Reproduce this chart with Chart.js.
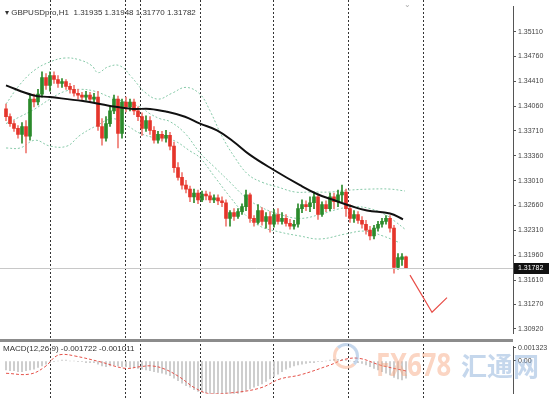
<!DOCTYPE html>
<html>
<head>
<meta charset="utf-8">
<script src="https://cdn.jsdelivr.net/npm/chart.js@4.4.1/dist/chart.umd.min.js"></script>
<style>
body{margin:0;background:#fff;width:559px;height:400px;overflow:hidden;position:relative;font-family:"Liberation Sans",Arial,sans-serif}
#main{position:absolute;left:0;top:0}
#macd{position:absolute;left:0;top:340px}
.sep{position:absolute;left:0;top:339px;width:513px;height:3px;background:#8c8c8c}
.hdr{position:absolute;left:5px;top:8px;font-size:8px;color:#333;white-space:pre}
.mark{position:absolute;left:404px;top:0px;font-size:8px;color:#aaa}
.mlab{position:absolute;left:3px;top:344px;font-size:8px;color:#333;white-space:pre}
.logo{position:absolute;left:333px;top:343px;width:20px;height:20px;border-radius:50%;border:3px solid #f6a27a;border-right-color:#7fa6d6;border-top-color:#7fa6d6;opacity:.45}
.wm1{position:absolute;left:376px;top:342px;font:bold 32px "Noto Sans",sans-serif;color:#f6a27a;opacity:.45;transform:scaleX(.8);transform-origin:left top}
.wm2{position:absolute;left:461px;top:346px;font:bold 26px "Noto Sans CJK SC",sans-serif;color:#7fa6d6;opacity:.45}
</style>
</head>
<body>
<canvas id="main" width="559" height="340"></canvas>
<canvas id="macd" width="559" height="60"></canvas>
<div class="sep"></div>
<div class="hdr">&#9662; GBPUSDpro,H1  1.31935 1.31948 1.31770 1.31782</div>
<div class="mark">&#8964;</div>
<div class="mlab">MACD(12,26,9) -0.001722 -0.001011</div>
<div class="logo"></div>
<div class="wm1">FX678</div>
<div class="wm2">汇通网</div>
<script>
// H1 candles, index 0..100
var opens = [1.34021,1.33911,1.33814,1.33746,1.33663,1.33773,1.33635,1.34159,1.34118,1.34228,
  1.34462,1.34352,1.34490,1.34435,1.34380,1.34407,1.34338,1.34297,1.34242,1.34214,
  1.34187,1.34214,1.34159,1.34187,1.33773,1.33608,1.33814,1.33994,1.34159,1.33677,
  1.34118,1.34049,1.34118,1.33994,1.33911,1.33746,1.33856,1.33718,1.33580,1.33663,
  1.33608,1.33649,1.33497,1.33194,1.33057,1.32946,1.32891,1.32781,1.32836,1.32740,
  1.32822,1.32795,1.32740,1.32767,1.32726,1.32698,1.32478,1.32560,1.32505,1.32574,
  1.32643,1.32809,1.32478,1.32423,1.32588,1.32436,1.32505,1.32395,1.32533,1.32436,
  1.32478,1.32409,1.32368,1.32395,1.32616,1.32671,1.32643,1.32698,1.32781,1.32533,
  1.32671,1.32616,1.32781,1.32712,1.32809,1.32850,1.32616,1.32478,1.32533,1.32450,
  1.32395,1.32312,1.32230,1.32340,1.32395,1.32436,1.32478,1.32340,1.31789,1.31900,
  1.31935];
var highs = [1.34090,1.33952,1.33856,1.33787,1.33828,1.33856,1.34228,1.34228,1.34297,1.34545,
  1.34517,1.34545,1.34545,1.34490,1.34448,1.34435,1.34380,1.34352,1.34297,1.34255,
  1.34269,1.34255,1.34242,1.34269,1.33883,1.33911,1.34049,1.34214,1.34200,1.34159,
  1.34187,1.34159,1.34159,1.34049,1.33966,1.33925,1.33911,1.33773,1.33704,1.33704,
  1.33718,1.33690,1.33553,1.33263,1.33125,1.33015,1.32933,1.32891,1.32877,1.32864,
  1.32864,1.32850,1.32809,1.32809,1.32781,1.32740,1.32588,1.32616,1.32616,1.32684,
  1.32877,1.32836,1.32519,1.32671,1.32629,1.32560,1.32574,1.32602,1.32616,1.32560,
  1.32533,1.32464,1.32450,1.32684,1.32740,1.32726,1.32781,1.32850,1.32822,1.32712,
  1.32726,1.32836,1.32836,1.32877,1.32946,1.32891,1.32671,1.32588,1.32574,1.32505,
  1.32450,1.32368,1.32381,1.32436,1.32478,1.32519,1.32519,1.32381,1.31982,1.31982,
  1.31948];
var lows = [1.33856,1.33773,1.33704,1.33608,1.33539,1.33401,1.33580,1.34049,1.34076,1.34187,
  1.34297,1.34269,1.34380,1.34324,1.34324,1.34297,1.34242,1.34200,1.34159,1.34145,
  1.34145,1.34118,1.34118,1.33718,1.33511,1.33566,1.33773,1.33952,1.33470,1.33608,
  1.33980,1.33994,1.33939,1.33856,1.33649,1.33704,1.33663,1.33539,1.33539,1.33566,
  1.33553,1.33442,1.33125,1.33015,1.32891,1.32836,1.32712,1.32698,1.32684,1.32712,
  1.32740,1.32698,1.32698,1.32671,1.32643,1.32368,1.32368,1.32450,1.32478,1.32533,
  1.32588,1.32423,1.32368,1.32395,1.32381,1.32340,1.32285,1.32354,1.32395,1.32395,
  1.32368,1.32326,1.32326,1.32354,1.32560,1.32588,1.32574,1.32616,1.32464,1.32505,
  1.32574,1.32588,1.32616,1.32643,1.32712,1.32505,1.32423,1.32423,1.32409,1.32340,
  1.32257,1.32175,1.32188,1.32299,1.32354,1.32395,1.32285,1.31706,1.31761,1.31816,
  1.31770];
var closes = [1.33911,1.33814,1.33746,1.33663,1.33773,1.33635,1.34159,1.34118,1.34228,1.34462,
  1.34352,1.34490,1.34435,1.34380,1.34407,1.34338,1.34297,1.34242,1.34214,1.34187,
  1.34214,1.34159,1.34187,1.33773,1.33608,1.33814,1.33994,1.34159,1.33677,1.34118,
  1.34049,1.34118,1.33994,1.33911,1.33746,1.33856,1.33718,1.33580,1.33663,1.33608,
  1.33649,1.33497,1.33194,1.33057,1.32946,1.32891,1.32781,1.32836,1.32740,1.32822,
  1.32795,1.32740,1.32767,1.32726,1.32698,1.32478,1.32560,1.32505,1.32574,1.32643,
  1.32809,1.32478,1.32423,1.32588,1.32436,1.32505,1.32395,1.32533,1.32436,1.32478,
  1.32409,1.32368,1.32395,1.32616,1.32671,1.32643,1.32698,1.32781,1.32533,1.32671,
  1.32616,1.32781,1.32712,1.32809,1.32850,1.32616,1.32478,1.32533,1.32450,1.32395,
  1.32312,1.32230,1.32340,1.32395,1.32436,1.32478,1.32340,1.31789,1.31927,1.31935,
  1.31782];

// moving average and bollinger bands, [bar index, price]
var maLine = [[0,1.34352],[6.75,1.34214],[11,1.34187],[19.25,1.34131],[26,1.34063],[31.75,1.34021],
  [36,1.34021],[40.25,1.33980],[44.75,1.33911],[48.5,1.33814],[52.75,1.33718],[56.75,1.33566],
  [61,1.33373],[66.75,1.33167],[73.5,1.32946],[77.75,1.32822],[81.75,1.32740],[86,1.32657],
  [90.25,1.32588],[96,1.32547],[99.25,1.32464]];
var bbUpper = [[0,1.34090],[3.5,1.34366],[7.25,1.34572],[11,1.34683],[14.75,1.34738],[18.5,1.34710],
  [21.5,1.34628],[23,1.34531],[25.5,1.34614],[28.5,1.34628],[31.5,1.34462],[34.75,1.34255],
  [38,1.34159],[41.5,1.34242],[45,1.34324],[48.5,1.34228],[51,1.33994],[54,1.33635],
  [57.25,1.33332],[60.5,1.33098],[64,1.32988],[68,1.32919],[72.25,1.32850],[76,1.32850],
  [81,1.32850],[86,1.32877],[91,1.32891],[96,1.32891],[99.75,1.32864]];
var bbMid = [[0,1.33814],[3.5,1.33911],[7.25,1.34021],[11,1.34159],[14.75,1.34269],[18.5,1.34297],
  [22.25,1.34269],[26,1.34187],[29.75,1.34118],[33.5,1.34049],[36,1.33952],[38.5,1.33883],
  [41,1.33842],[44.75,1.33677],[48.5,1.33401],[52.25,1.33194],[56,1.32988],[59.75,1.32781],
  [63.5,1.32643],[68.5,1.32533],[73.5,1.32478],[78.5,1.32533],[83.5,1.32616],[87.25,1.32643],
  [91,1.32616],[94.75,1.32533],[97.25,1.32436],[99.75,1.32326]];
var bbLower = [[0,1.33470],[3.5,1.33470],[7.25,1.33580],[11,1.33497],[15.25,1.33497],[18.5,1.33649],
  [22.75,1.33787],[26.75,1.33883],[30.25,1.33787],[33.5,1.33677],[37.75,1.33608],[41.75,1.33580],
  [46,1.33428],[48.5,1.33332],[52.25,1.33057],[56,1.32781],[59.75,1.32533],[63.5,1.32368],
  [68.5,1.32285],[73.5,1.32230],[78.5,1.32188],[84.75,1.32257],[89.75,1.32299],[94.25,1.32230],
  [98.5,1.32133]];
var forecast = [[101,1.31679],[106.5,1.31155],[110.25,1.31362]];

// MACD
var macdHist = [-0.00091,-0.00099,-0.00099,-0.00108,-0.00108,-0.00099,-0.00091,-0.00083,-0.00066,-0.00050,
  -0.00033,-0.00017,-0.00008,0,0.00008,0.00008,0,0,-0.00008,-0.00008,
  -0.00017,-0.00017,-0.00017,-0.00033,-0.00050,-0.00058,-0.00050,-0.00041,-0.00050,-0.00058,
  -0.00058,-0.00066,-0.00066,-0.00074,-0.00083,-0.00091,-0.00099,-0.00108,-0.00116,-0.00124,
  -0.00132,-0.00149,-0.00174,-0.00198,-0.00223,-0.00248,-0.00265,-0.00289,-0.00306,-0.00314,
  -0.00323,-0.00331,-0.00339,-0.00339,-0.00347,-0.00347,-0.00347,-0.00339,-0.00331,-0.00314,
  -0.00298,-0.00281,-0.00265,-0.00248,-0.00232,-0.00207,-0.00182,-0.00157,-0.00132,-0.00108,
  -0.00083,-0.00066,-0.00050,-0.00041,-0.00033,-0.00025,-0.00017,-0.00017,-0.00008,-0.00008,
  0,0.00008,0.00017,0.00017,0.00017,0.00008,0,-0.00008,-0.00017,-0.00025,
  -0.00041,-0.00058,-0.00074,-0.00091,-0.00108,-0.00124,-0.00141,-0.00165,-0.00182,-0.00190,
  -0.001722];
var macdSignal = [[0,-0.00124],[6,-0.00132],[9.75,-0.00058],[12.25,0.00041],[14,0.00066],[17.25,0.00050],
  [23.5,-0.00008],[29.75,-0.00074],[33.5,-0.00058],[36.5,-0.00050],[39.75,-0.00083],[43.5,-0.00165],
  [47.25,-0.00273],[51,-0.00331],[56,-0.00323],[63.5,-0.00273],[68.5,-0.00182],[73.5,-0.00141],
  [81,-0.00041],[84.75,0.00017],[88.5,0.00025],[93.5,-0.00041],[100,-0.001011]];

var priceTicks = [1.35110,1.34760,1.34410,1.34060,1.33710,1.33360,1.33010,1.32660,1.32310,1.31960,1.31610,1.31270,1.30920];
var macdTicks = [0.001323, 0];
var separators = [11, 29.75, 33.5, 48.5, 66.75, 85.5, 104.25];

var GREEN = '#2b8a2b', RED = '#e5352b';
var up = closes.map(function(c, i){ return c >= opens[i]; });
var xMin = -1.5, xMax = 126.75;

function pts(list){ return list.map(function(p){ return {x:p[0], y:p[1]}; }); }

var sepPlugin = {
  id: 'sep',
  beforeDatasetsDraw: function(chart){
    var ctx = chart.ctx, xs = chart.scales.x;
    ctx.save();
    ctx.strokeStyle = '#333';
    ctx.lineWidth = 1;
    ctx.setLineDash([2,2]);
    separators.forEach(function(s){
      var x = Math.round(xs.getPixelForValue(s)) + 0.5;
      ctx.beginPath();
      ctx.moveTo(x, 0);
      ctx.lineTo(x, chart.height);
      ctx.stroke();
    });
    ctx.restore();
  }
};

var lastPricePlugin = {
  id: 'lastPrice',
  afterDraw: function(chart){
    var ctx = chart.ctx, ys = chart.scales.y, a = chart.chartArea;
    var last = closes[closes.length - 1];
    var y = Math.round(ys.getPixelForValue(last)) + 0.5;
    ctx.save();
    ctx.strokeStyle = '#c8c8c8';
    ctx.lineWidth = 1;
    ctx.beginPath();
    ctx.moveTo(a.left, y);
    ctx.lineTo(a.right, y);
    ctx.stroke();
    ctx.fillStyle = '#111';
    ctx.fillRect(a.right + 1, y - 5.5, 35, 11);
    ctx.fillStyle = '#fff';
    ctx.font = '7px "Liberation Sans", Arial, sans-serif';
    ctx.textBaseline = 'middle';
    ctx.fillText(last.toFixed(5), a.right + 5, y);
    ctx.restore();
  }
};

function rightAxis(ticks, fmt){
  return {
    position: 'right',
    afterFit: function(s){ s.width = 46; },
    afterBuildTicks: function(s){ s.ticks = ticks.map(function(v){ return {value:v}; }); },
    border: {display:true, color:'#555', width:1},
    grid: {display:true, drawOnChartArea:false, drawTicks:true, tickLength:3, color:'#555'},
    ticks: {padding:2, color:'#444', font:{family:'"Liberation Sans", Arial, sans-serif', size:7}, callback: fmt}
  };
}

new Chart(document.getElementById('main'), {
  type: 'bar',
  data: {
    datasets: [
      {type:'line', data: pts(bbUpper), borderColor:'#86c9a8', borderWidth:1, borderDash:[2,2], pointRadius:0, tension:0.4, order:5},
      {type:'line', data: pts(bbMid), borderColor:'#86c9a8', borderWidth:1, borderDash:[2,2], pointRadius:0, tension:0.4, order:5},
      {type:'line', data: pts(bbLower), borderColor:'#86c9a8', borderWidth:1, borderDash:[2,2], pointRadius:0, tension:0.4, order:5},
      {data: lows.map(function(l, i){ return {x:i, y:[l, highs[i]]}; }),
        backgroundColor: up.map(function(u){ return u ? GREEN : '#f07a72'; }),
        barThickness:1, grouped:false, order:3},
      {data: opens.map(function(o, i){ return {x:i, y:[o, closes[i]]}; }),
        backgroundColor: up.map(function(u){ return u ? GREEN : RED; }),
        barThickness:3, minBarLength:1, grouped:false, order:2},
      {type:'line', data: pts(maLine), borderColor:'#111', borderWidth:2, pointRadius:0, tension:0.4, order:1},
      {type:'line', data: pts(forecast), borderColor:'#e8504a', borderWidth:1.2, pointRadius:0, tension:0, order:1}
    ]
  },
  options: {
    responsive:false, animation:false, devicePixelRatio:1,
    layout:{padding:{top:5, left:0, right:0, bottom:0}},
    plugins:{legend:{display:false}, tooltip:{enabled:false}},
    scales:{
      x:{type:'linear', min:xMin, max:xMax, offset:false, display:false},
      y: Object.assign(rightAxis(priceTicks, function(v){ return v.toFixed(5); }), {min:1.30852, max:1.35468})
    }
  },
  plugins:[sepPlugin, lastPricePlugin]
});

new Chart(document.getElementById('macd'), {
  type: 'bar',
  data: {
    datasets: [
      {data: macdHist.map(function(v, i){ return {x:i, y:v}; }), backgroundColor:'#c4c4c4', barThickness:1, order:2},
      {type:'line', data: pts(macdSignal), borderColor:'#e5534b', borderWidth:1, borderDash:[3,2], pointRadius:0, tension:0.4, order:1}
    ]
  },
  options: {
    responsive:false, animation:false, devicePixelRatio:1,
    layout:{padding:{top:2, left:0, right:0, bottom:0}},
    plugins:{legend:{display:false}, tooltip:{enabled:false}},
    scales:{
      x:{type:'linear', min:xMin, max:xMax, offset:false, display:false},
      y: Object.assign(rightAxis(macdTicks, function(v){ return v === 0 ? '0.00' : v.toFixed(6); }), {min:-0.00331, max:0.00149})
    }
  },
  plugins:[sepPlugin]
});
</script>
</body>
</html>
